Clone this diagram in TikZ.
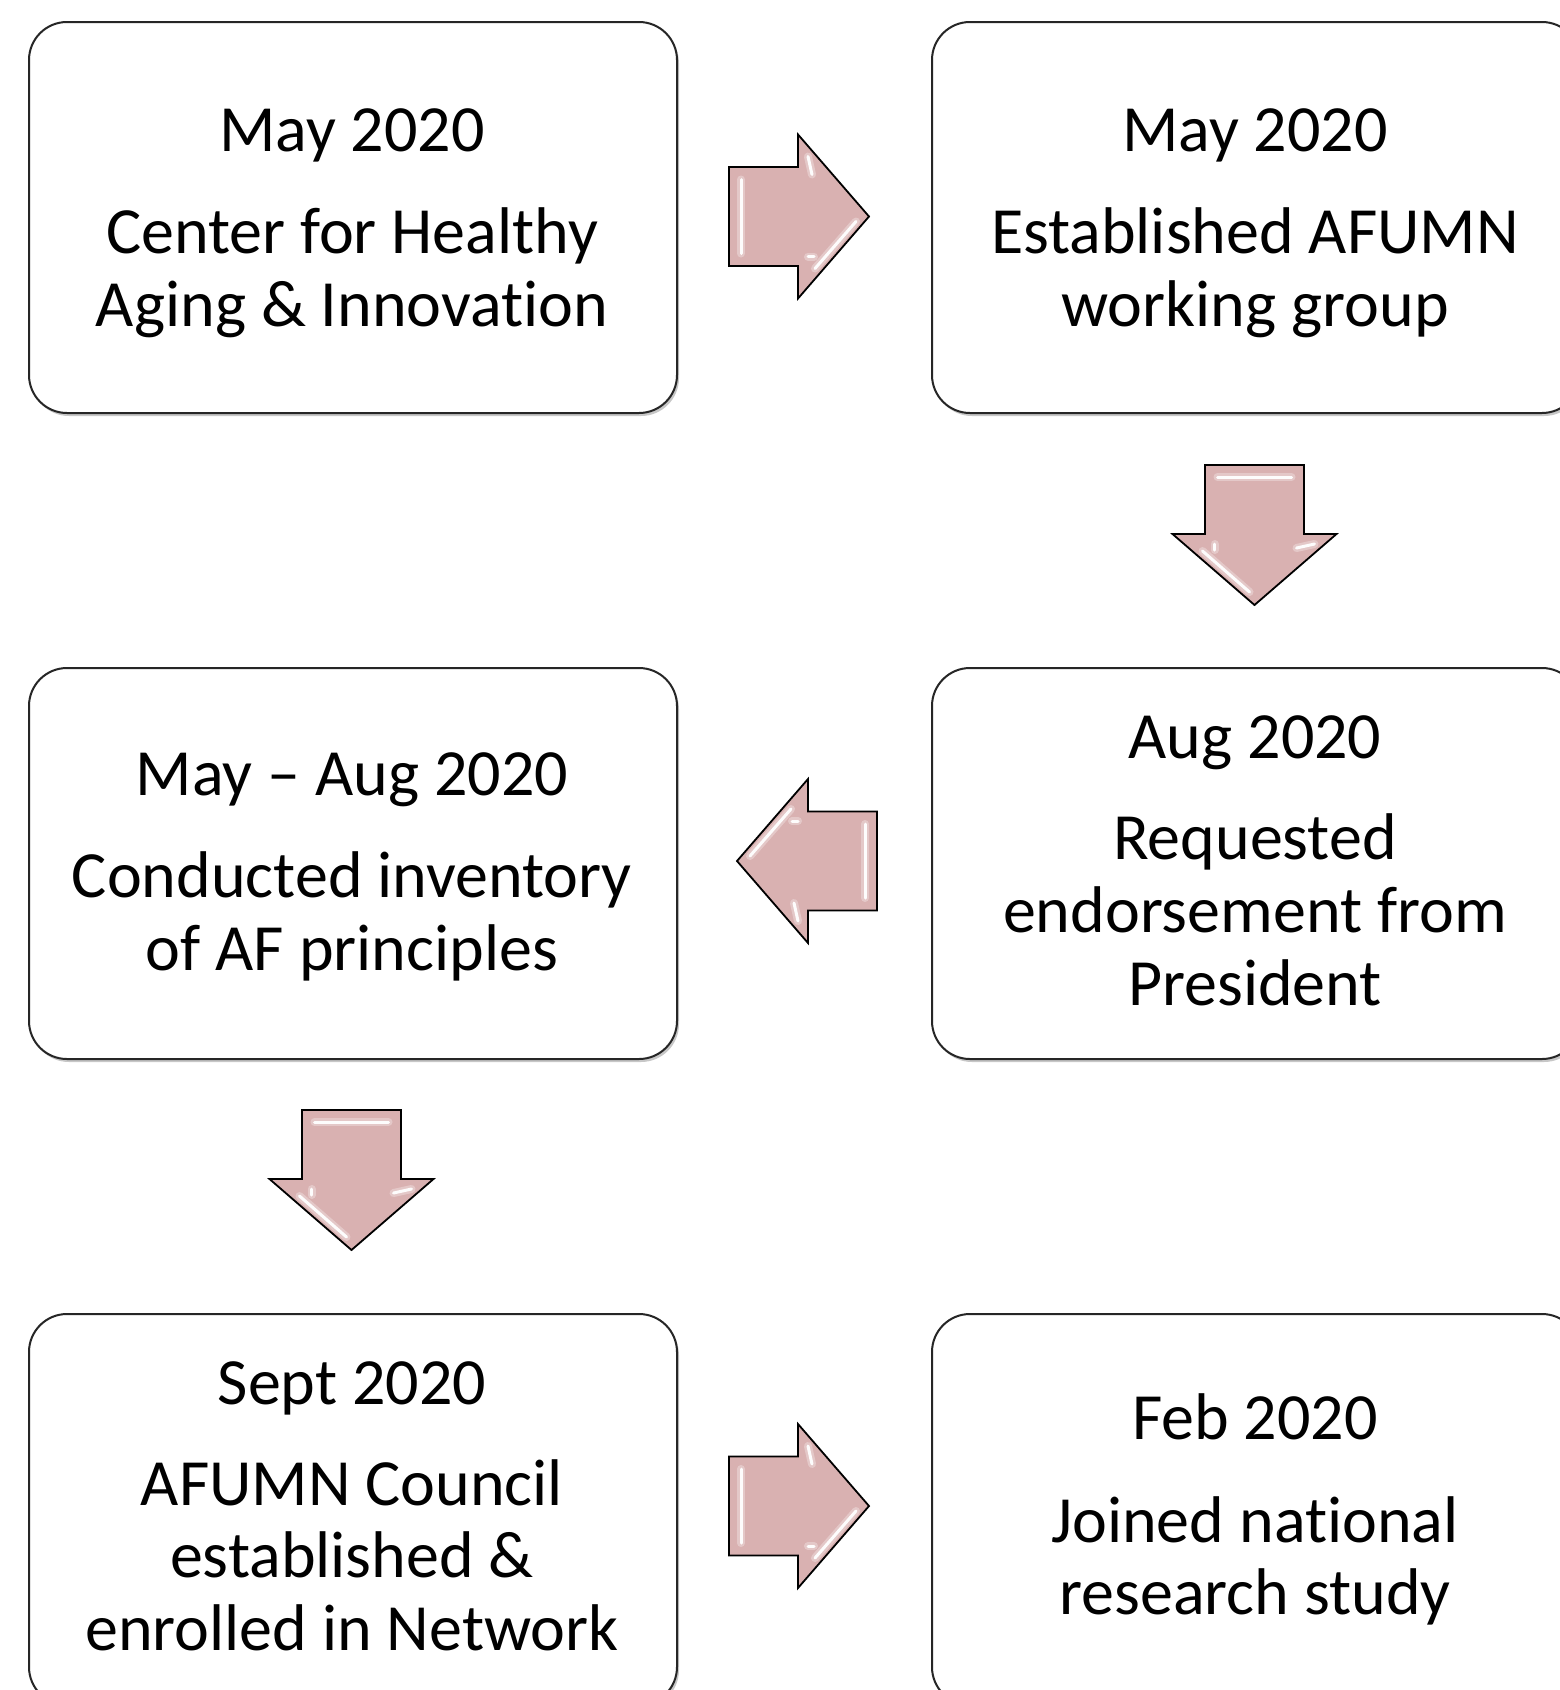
\documentclass[tikz,border=0pt]{standalone}
\usepackage{fontspec}
\setmainfont[Ligatures={NoCommon}]{Carlito}
\usetikzlibrary{shadows}
\definecolor{arrowfill}{HTML}{D9B1B1}
\begin{document}
\begin{tikzpicture}[x=1pt,y=-1pt,
  box/.style={draw=black!85, line width=2pt, rounded corners=38pt, fill=white,
    minimum width=648pt, minimum height=391pt, anchor=north west, inner sep=0pt,
    drop shadow={shadow xshift=2pt, shadow yshift=-3pt, opacity=0.22, fill=black}},
  txt/.style={anchor=base, font=\fontsize{66}{73}\selectfont, inner sep=0pt},
  hl/.style={draw=white, line cap=round},
  blockarrow/.pic={
    \fill[arrowfill] (-70,-49.5) -- (-1,-49.5) -- (-1,-82) -- (70,0) -- (-1,82) -- (-1,49.5) -- (-70,49.5) -- cycle;
    \foreach \w/\o in {8/0.3,3/0.95}{
      \draw[hl, line width=\w pt, opacity=\o] (-58,-37) -- (-58,37);
      \draw[hl, line width=\w pt, opacity=\o] (57,5) -- (16,52);
      \draw[hl, line width=\w pt, opacity=\o] (9,-60) -- (13,-42);
      \draw[hl, line width=\w pt, opacity=\o] (9,40) -- (15,40);
    }
    \draw[black, line width=1.8pt, line join=miter] (-70,-49.5) -- (-1,-49.5) -- (-1,-82) -- (70,0) -- (-1,82) -- (-1,49.5) -- (-70,49.5) -- cycle;
  }]
\useasboundingbox (0,0) rectangle (1560,1690);
\clip (0,0) rectangle (1560,1690);
\fill[white] (0,0) rectangle (1560,1690);

% boxes
\node[box] (b1) at (28,21) {};
\node[box] (b2) at (931,21) {};
\node[box] (b3) at (28,667) {};
\node[box] (b4) at (931,667) {};
\node[box] (b5) at (28,1313) {};
\node[box] (b6) at (931,1313) {};

% texts box 1
\node[txt] (t1a) at (352,151) {May 2020};
\node[txt] (t1b) at (352,253) {Center for Healthy};
\node[txt] (t1c) at (352,326) {Aging \& Innovation};
% box 2
\node[txt] (t2a) at (1255,151) {May 2020};
\node[txt] (t2b) at (1255,253) {Established AFUMN};
\node[txt] (t2c) at (1255,326) {working group};
% box 3
\node[txt] (t3a) at (352,795) {May – Aug 2020};
\node[txt] (t3b) at (352,897) {Conducted inventory};
\node[txt] (t3c) at (352,970) {of AF principles};
% box 4
\node[txt] (t4a) at (1255,758) {Aug 2020};
\node[txt] (t4b) at (1255,859) {Requested};
\node[txt] (t4c) at (1255,932) {endorsement from};
\node[txt] (t4d) at (1255,1005) {President};
% box 5
\node[txt] (t5a) at (352,1404) {Sept 2020};
\node[txt] (t5b) at (352,1505) {AFUMN Council};
\node[txt] (t5c) at (352,1577) {established \&};
\node[txt] (t5d) at (352,1650) {enrolled in Network};
% box 6
\node[txt] (t6a) at (1255,1439) {Feb 2020};
\node[txt] (t6b) at (1255,1542) {Joined national};
\node[txt] (t6c) at (1255,1614) {research study};

% block arrows
\pic at (799,216.5) {blockarrow};
\pic[rotate=-90] at (1254.5,535) {blockarrow};
\pic[rotate=180] at (807,861) {blockarrow};
\pic[rotate=-90] at (351.5,1180) {blockarrow};
\pic at (799,1506) {blockarrow};
\end{tikzpicture}
\end{document}
